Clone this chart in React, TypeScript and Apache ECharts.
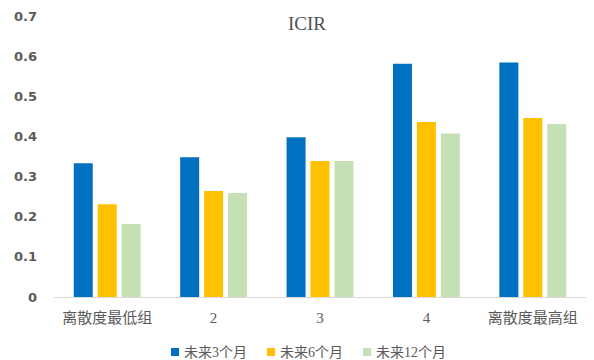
import React, { useEffect, useRef } from "react";
import * as echarts from "echarts";

const categories = ["离散度最低组", "2", "3", "4", "离散度最高组"];
const seriesNames = ["未来3个月", "未来6个月", "未来12个月"];
const m3 = [0.333, 0.348, 0.398, 0.581, 0.584];
const m6 = [0.231, 0.264, 0.339, 0.436, 0.446];
const m12 = [0.182, 0.259, 0.339, 0.407, 0.431];
const colors = ["#0070C0", "#FFC000", "#C5E0B4"];

export default function App() {
  const ref = useRef<HTMLDivElement>(null);
  useEffect(() => {
    if (!ref.current) return;
    const chart = echarts.init(ref.current, null, { renderer: "svg" });
    const serifCJK = '"Liberation Serif", "Noto Sans CJK SC", serif';
    const dataSets = [m3, m6, m12];
    chart.setOption({
      animation: false,
      backgroundColor: "#ffffff",
      graphic: [
        {
          type: "text",
          x: 307,
          y: 23,
          style: {
            text: "ICIR",
            fill: "#505050",
            font: '19px "Liberation Serif", serif',
            textAlign: "center",
            textVerticalAlign: "middle",
          },
        },
      ],
      grid: { left: 54, right: 8, top: 16, bottom: 63 },
      legend: {
        left: 166,
        top: 340,
        itemWidth: 8,
        itemHeight: 8,
        itemGap: 20,
        icon: "rect",
        textStyle: { color: "#595959", fontSize: 14, fontFamily: serifCJK },
        data: seriesNames,
      },
      xAxis: {
        type: "category",
        data: categories,
        axisLine: { lineStyle: { color: "#d9d9d9", width: 1 } },
        axisTick: { show: false },
        axisLabel: {
          color: "#595959",
          fontSize: 15,
          fontFamily: serifCJK,
          margin: 13,
          interval: 0,
        },
      },
      yAxis: {
        type: "value",
        min: 0,
        max: 0.7,
        interval: 0.1,
        splitLine: { show: false },
        axisLine: { show: false },
        axisTick: { show: false },
        axisLabel: {
          color: "#595959",
          fontSize: 13,
          fontWeight: "bold",
          fontFamily: '"DejaVu Sans", sans-serif',
          margin: 17,
        },
      },
      series: seriesNames.map((name, i) => ({
        name,
        type: "bar",
        data: dataSets[i],
        barWidth: 19,
        barGap: "26%",
        itemStyle: { color: colors[i] },
      })),
    });
    return () => chart.dispose();
  }, []);
  return (
    <div
      ref={ref}
      style={{ position: "fixed", left: 0, top: 0, width: 594, height: 360 }}
    />
  );
}
